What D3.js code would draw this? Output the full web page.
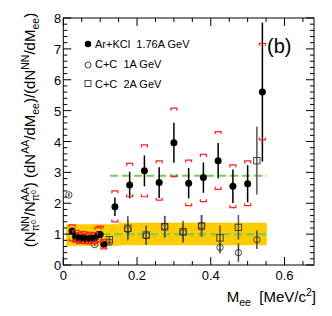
<!DOCTYPE html>
<html>
<head>
<meta charset="utf-8">
<script src="https://cdn.jsdelivr.net/npm/d3@7/dist/d3.min.js"></script>
<style>
  body { margin: 0; background: #fff; }
  text { font-family: "Liberation Sans", Arial, Helvetica, sans-serif; white-space: pre; }
</style>
</head>
<body>
<script>
// Ar+KCl 1.76A GeV (filled circles), stat errors and systematic brackets
const arX    = [0.024, 0.034, 0.044, 0.054, 0.064, 0.074, 0.084, 0.094, 0.100, 0.110, 0.14, 0.18, 0.22, 0.26, 0.30, 0.34, 0.38, 0.42, 0.46, 0.50, 0.54];
const arY    = [1.10, 0.93, 0.86, 0.90, 0.84, 0.88, 0.86, 0.98, 0.99, 0.67, 1.89, 2.59, 3.05, 2.67, 3.96, 2.65, 2.83, 3.38, 2.55, 2.63, 5.60];
const arStat = [0.08, 0.06, 0.06, 0.06, 0.06, 0.06, 0.07, 0.08, 0.08, 0.09, 0.30, 0.43, 0.50, 0.50, 0.65, 0.49, 0.49, 0.57, 0.54, 0.60, 2.25];
const arSysHi = [1.30, 1.12, 1.05, 1.08, 1.02, 1.06, 1.05, 1.22, 1.26, 0.82, 2.40, 3.29, 3.89, 3.37, 5.08, 3.40, 3.58, 4.32, 3.24, 3.37, 7.18];
const arSysLo = [0.78, 0.74, 0.70, 0.72, 0.68, 0.70, 0.70, 0.75, 0.76, 0.52, 1.40, 2.21, 2.21, 2.10, 2.86, 1.92, 2.05, 2.45, 1.86, 1.92, 4.05];

// C+C 1A GeV (open circles)
const c1X   = [0.015, 0.035, 0.055, 0.075, 0.085, 0.125, 0.175, 0.225, 0.275, 0.325, 0.375, 0.425, 0.475, 0.525];
const c1Y   = [2.27, 0.90, 0.82, 0.78, 0.66, 0.74, 1.15, 0.95, 1.24, 1.05, 1.27, 0.57, 0.40, 0.82];
const c1Err = [0.05, 0.05, 0.05, 0.05, 0.05, 0.08, 0.30, 0.30, 0.35, 0.30, 0.35, 0.20, 0.30, 0.30];

// C+C 2A GeV (open squares)
const c2X   = [0.035, 0.055, 0.075, 0.095, 0.125, 0.175, 0.225, 0.275, 0.325, 0.375, 0.425, 0.475, 0.525];
const c2Y   = [0.88, 0.84, 0.80, 0.86, 0.82, 1.19, 0.97, 1.24, 1.08, 1.26, 0.88, 1.22, 3.38];
const c2Err = [0.05, 0.05, 0.05, 0.05, 0.08, 0.40, 0.30, 0.35, 0.35, 0.35, 0.40, 0.40, 1.10];

// yellow uncertainty band segments
const bandX0 = [0.008, 0.15];
const bandX1 = [0.15, 0.552];
const bandLo = [0.62, 0.64];
const bandHi = [1.32, 1.37];

// green dashed reference levels
const refX0 = [0.008, 0.127];
const refX1 = [0.552, 0.552];
const refY  = [1.0, 2.89];

const xTicks = [0, 0.2, 0.4, 0.6];
const yTicks = [0, 1, 2, 3, 4, 5, 6, 7, 8];
const legendLabels = ["Ar+KCl  1.76A GeV", "C+C  1A GeV", "C+C  2A GeV"];

let width = 332, height = 316;
let L = 63.3, R = 314, T = 18, B = 265;

let svg = d3.select("body").append("svg")
  .attr("width", width)
  .attr("height", height);

let x = d3.scaleLinear().domain([0, 0.68]).range([L, R]);
let y = d3.scaleLinear().domain([0, 8]).range([B, T]);

// band
svg.append("g").selectAll("rect")
  .data(bandX0)
  .enter().append("rect")
  .attr("x", (d, i) => x(d))
  .attr("width", (d, i) => x(bandX1[i]) - x(d))
  .attr("y", (d, i) => y(bandHi[i]))
  .attr("height", (d, i) => y(bandLo[i]) - y(bandHi[i]))
  .attr("fill", "#ffcc00");

// reference lines
svg.append("g").selectAll("line")
  .data(refY)
  .enter().append("line")
  .attr("x1", (d, i) => x(refX0[i]))
  .attr("x2", (d, i) => x(refX1[i]))
  .attr("y1", d => y(d))
  .attr("y2", d => y(d))
  .attr("stroke", "#77cc55")
  .attr("stroke-width", 2)
  .attr("stroke-dasharray", "8,4");

// vertical error bars
function errBars(xs, ys, es, col) {
  svg.append("g").selectAll("line")
    .data(xs)
    .enter().append("line")
    .attr("x1", d => x(d)).attr("x2", d => x(d))
    .attr("y1", (d, i) => y(ys[i] + es[i]))
    .attr("y2", (d, i) => y(Math.max(0, ys[i] - es[i])))
    .attr("stroke", col)
    .attr("stroke-width", 1.5);
}
errBars(c1X, c1Y, c1Err, "#444");
errBars(c2X, c2Y, c2Err, "#555");

svg.append("g").selectAll("rect")
  .data(c2X)
  .enter().append("rect")
  .attr("x", d => x(d) - 3.2)
  .attr("y", (d, i) => y(c2Y[i]) - 3.2)
  .attr("width", 6.4).attr("height", 6.4)
  .attr("fill", "none")
  .attr("stroke", "#333")
  .attr("stroke-width", 0.9);

svg.append("g").selectAll("circle")
  .data(c1X)
  .enter().append("circle")
  .attr("cx", d => x(d))
  .attr("cy", (d, i) => y(c1Y[i]))
  .attr("r", 3.2)
  .attr("fill", "none")
  .attr("stroke", "#333")
  .attr("stroke-width", 0.9);

// Ar+KCl
errBars(arX, arY, arStat, "#000");

svg.append("g").selectAll("circle")
  .data(arX)
  .enter().append("circle")
  .attr("cx", d => x(d))
  .attr("cy", (d, i) => y(arY[i]))
  .attr("r", 3.5)
  .attr("fill", "#000");

// systematic brackets
let br = svg.append("g").attr("fill", "none").attr("stroke", "#ff2020").attr("stroke-width", 1.2);
br.selectAll(".hi")
  .data(arX)
  .enter().append("path")
  .attr("d", (d, i) => {
    let px = x(d), py = y(arSysHi[i]);
    return `M${px - 3},${py + 2.5}V${py}H${px + 3}V${py + 2.5}`;
  });
br.selectAll(".lo")
  .data(arX)
  .enter().append("path")
  .attr("d", (d, i) => {
    let px = x(d), py = y(arSysLo[i]);
    return `M${px - 3},${py - 2.5}V${py}H${px + 3}V${py - 2.5}`;
  });

// frame and ticks (inward, ROOT style)
let ax = svg.append("g").attr("stroke", "#000").attr("stroke-width", 1);
ax.append("rect")
  .attr("x", L).attr("y", T)
  .attr("width", R - L).attr("height", B - T)
  .attr("fill", "none");

let xMinor = d3.range(0, 0.681, 0.05);
ax.selectAll(".xt")
  .data(xMinor)
  .enter().append("path")
  .attr("d", d => {
    let major = Math.abs(d / 0.2 - Math.round(d / 0.2)) < 1e-6;
    let len = major ? 8 : 4;
    return `M${x(d)},${B}v${-len}M${x(d)},${T}v${len}`;
  });

let yMinor = d3.range(0, 8.001, 0.2);
ax.selectAll(".yt")
  .data(yMinor)
  .enter().append("path")
  .attr("d", d => {
    let major = Math.abs(d - Math.round(d)) < 1e-6;
    let len = major ? 8 : 4;
    return `M${L},${y(d)}h${len}M${R},${y(d)}h${-len}`;
  });

svg.append("g").selectAll("text")
  .data(xTicks)
  .enter().append("text")
  .attr("x", d => x(d))
  .attr("y", B + 15)
  .attr("text-anchor", "middle")
  .attr("font-size", 13)
  .text(d => d === 0 ? "0" : d.toFixed(1));

svg.append("g").selectAll("text")
  .data(yTicks)
  .enter().append("text")
  .attr("x", L - 2)
  .attr("y", d => y(d) + 5)
  .attr("text-anchor", "end")
  .attr("font-size", 13)
  .text(d => d);

// rich text helper: segments drawn one after another, measured as we go;
// a "start" segment and the following ones up to "end" are stacked over each other
function richText(g, segs) {
  let cx = 0, stackStart = null, stackW = 0;
  segs.forEach(s => {
    let t = g.append("text")
      .attr("x", cx)
      .attr("y", s.dy || 0)
      .attr("font-size", s.size)
      .text(s.t);
    let w = t.node().getComputedTextLength();
    if (s.stack === "start") {
      stackStart = cx; stackW = w;
    } else if (s.stack === "end") {
      cx = stackStart + Math.max(stackW, cx + w - stackStart);
      stackStart = null;
    } else {
      cx += w;
    }
  });
  return cx;
}

// y axis title
let yl = svg.append("g");
let ylIn = yl.append("g");
let big = 15, sm = 10.5;
let ylen = richText(ylIn, [
  { t: "(N", size: big },
  { t: "NN", size: sm, dy: -6, stack: "start" },
  { t: "π", size: sm, dy: 4 },
  { t: "0", size: 7, dy: 1, stack: "end" },
  { t: "/N", size: big },
  { t: "AA", size: sm, dy: -6, stack: "start" },
  { t: "π", size: sm, dy: 4 },
  { t: "0", size: 7, dy: 1, stack: "end" },
  { t: ") (dN", size: big },
  { t: "AA", size: sm, dy: -6 },
  { t: "/dM", size: big },
  { t: "ee", size: sm, dy: 4 },
  { t: ")/(dN", size: big },
  { t: "NN", size: sm, dy: -6 },
  { t: "/dM", size: big },
  { t: "ee", size: sm, dy: 4 },
  { t: ")", size: big }
]);
yl.attr("transform", `translate(35,${130 + ylen / 2}) rotate(-90)`);

// x axis title
let xl = svg.append("g");
let xlIn = xl.append("g");
let xlen = richText(xlIn, [
  { t: "M", size: 15 },
  { t: "ee", size: 10.5, dy: 4 },
  { t: "  [MeV/c", size: 15 },
  { t: "2", size: 10.5, dy: -6 },
  { t: "]", size: 15 }
]);
xl.attr("transform", `translate(${316 - xlen},302)`);

// legend
let leg = svg.append("g");
leg.append("circle").attr("cx", 88).attr("cy", 44).attr("r", 3.2).attr("fill", "#000");
leg.append("circle").attr("cx", 88).attr("cy", 65).attr("r", 3).attr("fill", "none").attr("stroke", "#333").attr("stroke-width", 0.9);
leg.append("rect").attr("x", 85).attr("y", 80.5).attr("width", 6).attr("height", 6).attr("fill", "none").attr("stroke", "#333").attr("stroke-width", 0.9);
leg.selectAll("text")
  .data(legendLabels)
  .enter().append("text")
  .attr("x", 95)
  .attr("y", (d, i) => 48 + i * 20)
  .attr("font-size", 11)
  .text(d => d);

svg.append("text")
  .attr("x", 267).attr("y", 53)
  .attr("font-size", 20)
  .text("(b)");
</script>
</body>
</html>
